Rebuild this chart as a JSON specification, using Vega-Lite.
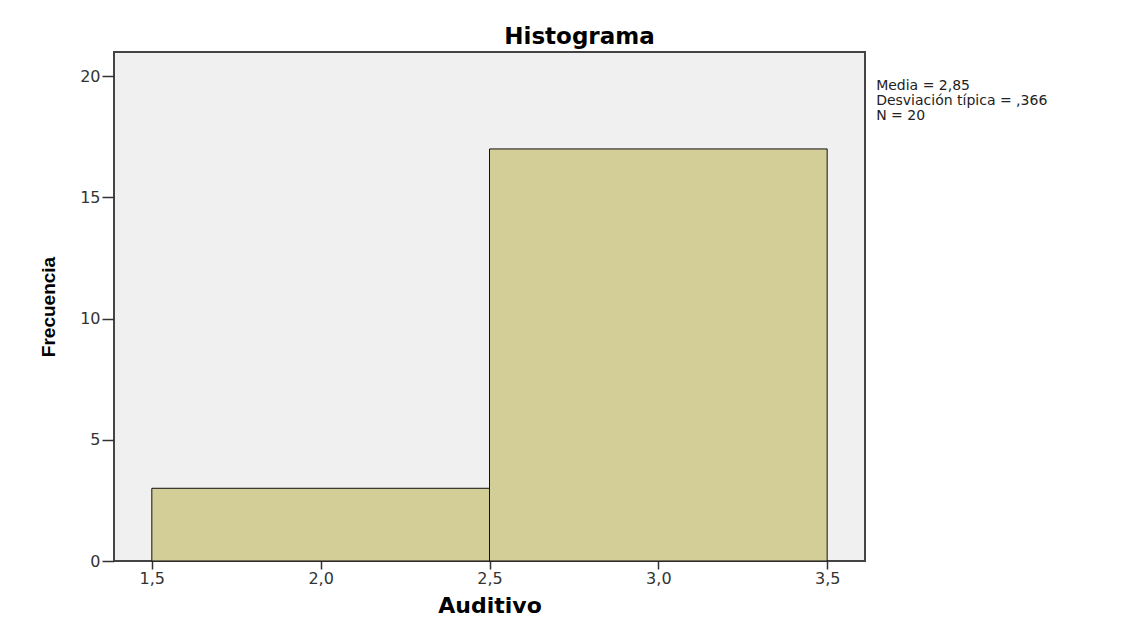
{
  "$schema": "https://vega.github.io/schema/vega-lite/v6.json",
  "width": 751,
  "height": 509,
  "autosize": {"type": "none"},
  "padding": {"left": 114, "top": 52, "right": 275, "bottom": 71},
  "background": "white",
  "config": {
    "view": {"fill": "#f0f0f0", "stroke": "#444444", "strokeWidth": 2}
  },
  "title": {
    "text": "Histograma",
    "font": "DejaVu Sans",
    "fontSize": 23,
    "fontWeight": "bold",
    "color": "black",
    "anchor": "middle",
    "frame": "group",
    "dx": 90,
    "offset": 3
  },
  "layer": [
    {
      "data": {
        "values": [
          {"bin_start": 1.5, "bin_end": 2.5, "frecuencia": 3},
          {"bin_start": 2.5, "bin_end": 3.5, "frecuencia": 17}
        ]
      },
      "mark": {"type": "bar", "fill": "#d3ce98", "stroke": "#111111", "strokeWidth": 1},
      "encoding": {
        "x": {
          "field": "bin_start",
          "type": "quantitative",
          "scale": {"domain": [1.388, 3.612], "nice": false, "zero": false},
          "axis": {
            "title": "Auditivo",
            "values": [1.5, 2, 2.5, 3, 3.5],
            "labelExpr": "replace(format(datum.value, '.1f'), '.', ',')",
            "grid": false,
            "domain": false,
            "tickSize": 8,
            "tickWidth": 1.5,
            "tickColor": "#333333",
            "labelFont": "DejaVu Sans",
            "labelFontSize": 16,
            "labelColor": "#333333",
            "labelPadding": 1,
            "titleFont": "DejaVu Sans",
            "titleFontSize": 22,
            "titleFontWeight": "bold",
            "titleColor": "black",
            "titlePadding": 9
          }
        },
        "x2": {"field": "bin_end"},
        "y": {
          "field": "frecuencia",
          "type": "quantitative",
          "scale": {"domain": [0, 21], "nice": false},
          "axis": {
            "title": "Frecuencia",
            "values": [0, 5, 10, 15, 20],
            "grid": false,
            "domain": false,
            "tickSize": 12,
            "tickWidth": 1.5,
            "tickColor": "#333333",
            "labelFont": "DejaVu Sans",
            "labelFontSize": 16,
            "labelColor": "#333333",
            "labelPadding": 2,
            "titleFont": "Liberation Sans",
            "titleFontSize": 19,
            "titleFontWeight": "bold",
            "titleColor": "black",
            "titlePadding": 21
          }
        },
        "y2": {"datum": 0}
      }
    },
    {
      "data": {
        "values": [
          {"texto": ["Media = 2,85", "Desviación típica = ,366", "N = 20"]}
        ]
      },
      "mark": {
        "type": "text",
        "align": "left",
        "baseline": "top",
        "font": "DejaVu Sans",
        "fontSize": 14,
        "lineHeight": 15,
        "color": "#222222"
      },
      "encoding": {
        "x": {"datum": 3.645, "type": "quantitative"},
        "y": {"datum": 19.9, "type": "quantitative"},
        "text": {"field": "texto"}
      }
    }
  ]
}
